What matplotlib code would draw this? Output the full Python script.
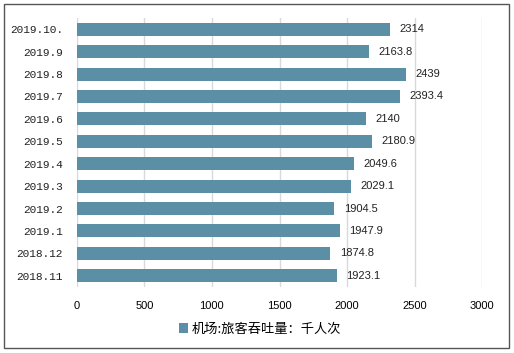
import matplotlib
matplotlib.use("Agg")
import matplotlib.pyplot as plt
from matplotlib.patches import Rectangle

plt.rcParams['font.family'] = ['Noto Sans CJK SC', 'DejaVu Sans']

# data, top to bottom as shown
months = ['2019.10.', '2019.9', '2019.8', '2019.7', '2019.6', '2019.5',
          '2019.4', '2019.3', '2019.2', '2019.1', '2018.12', '2018.11']
passengers = [2314, 2163.8, 2439, 2393.4, 2140, 2180.9,
              2049.6, 2029.1, 1904.5, 1947.9, 1874.8, 1923.1]
value_labels = ['2314', '2163.8', '2439', '2393.4', '2140', '2180.9',
                '2049.6', '2029.1', '1904.5', '1947.9', '1874.8', '1923.1']
x_ticks = [0, 500, 1000, 1500, 2000, 2500, 3000]
series_name = '机场:旅客吞吐量：千人次'

BAR_COLOR = '#5B8FA6'

W, H = 514, 353
fig = plt.figure(figsize=(W / 100, H / 100), dpi=100)
ax = fig.add_axes([76.7 / W, 1 - 287 / H, (482.3 - 76.7) / W, (287 - 18) / H])

ypos = list(range(len(months)))
ax.barh(ypos, passengers, height=0.58, color=BAR_COLOR, zorder=3,
        label=series_name)
ax.set_ylim(len(months) - 0.5, -0.5)
ax.set_xlim(0, 3000)

for y, v, s in zip(ypos, passengers, value_labels):
    ax.text(v + 70, y, s, va='center', ha='left', fontsize=8,
            family='Liberation Sans', color='#222222')

ax.set_yticks(ypos)
ax.set_yticklabels(months, family='Liberation Mono', fontsize=8,
                   color='#222222')
ax.set_xticks(x_ticks)
ax.set_xticklabels([str(t) for t in x_ticks], family='Liberation Sans',
                   fontsize=8)
ax.tick_params(length=0, pad=10)
ax.tick_params(axis='y', pad=10)
ax.grid(axis='x', color='#d9d9d9', linewidth=1, zorder=0)
for s in ax.spines.values():
    s.set_visible(False)

ax.legend(loc='center', bbox_to_anchor=(260 / W, 1 - 329 / H),
          bbox_transform=fig.transFigure, frameon=False, fontsize=9.5,
          handlelength=0.7, handleheight=0.7, handletextpad=0.3)

# outer border
fig.patches.append(Rectangle((4 / W, 5 / H), 505 / W, 344 / H,
                             transform=fig.transFigure, fill=False,
                             edgecolor='#555555', linewidth=1))

fig.savefig('out.png', dpi=100)
